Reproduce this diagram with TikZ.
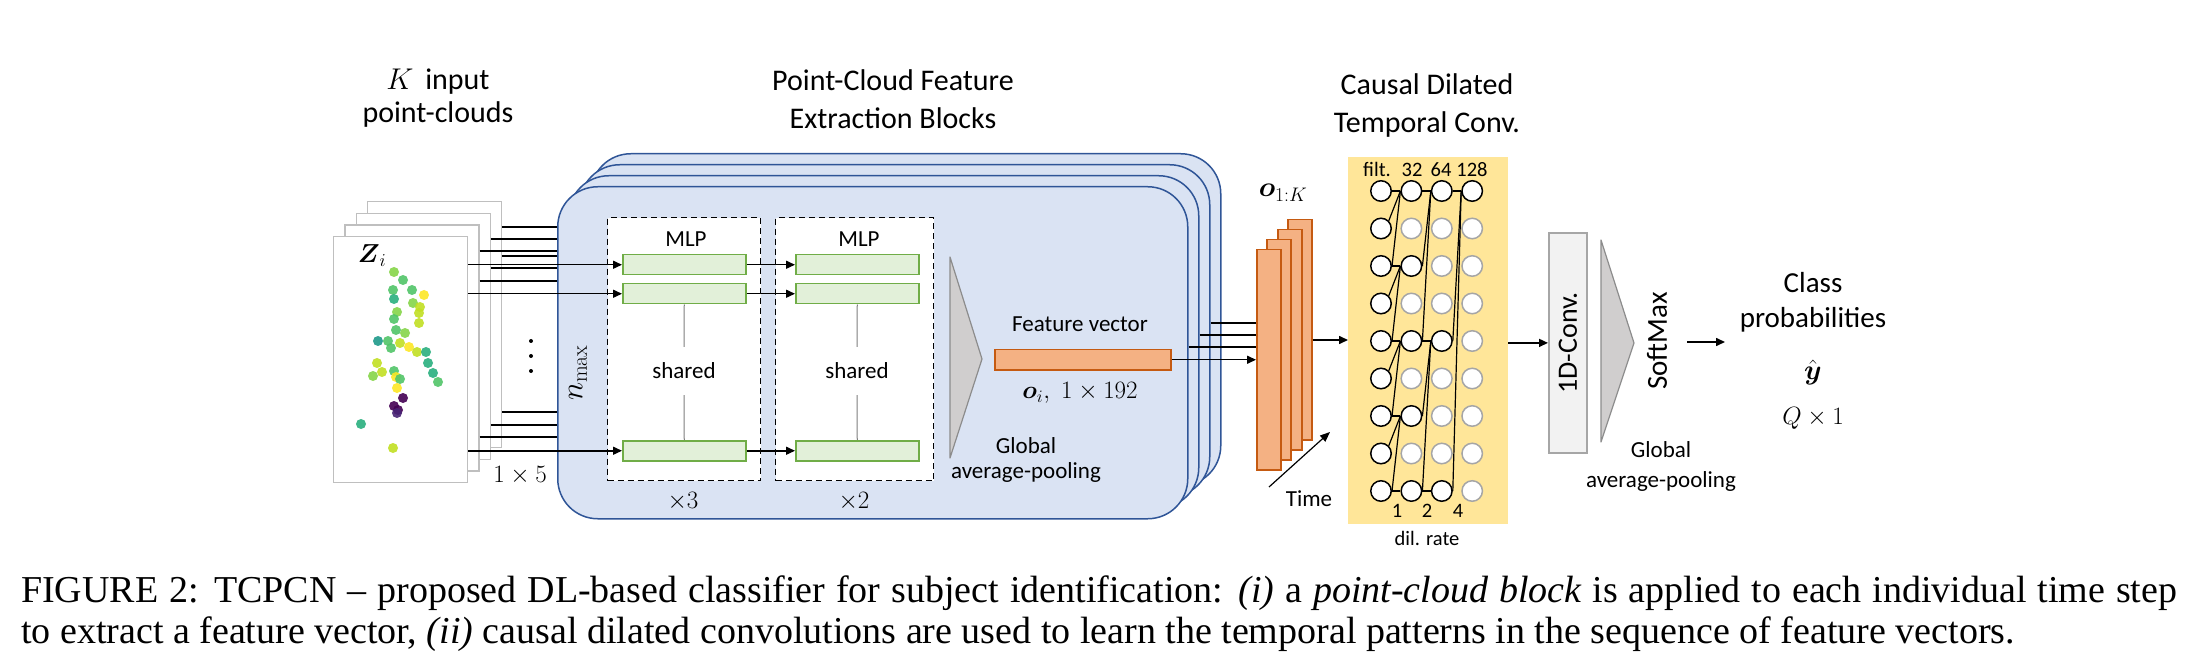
\documentclass[tikz,border=0pt]{standalone}
\usepackage{fix-cm}
\usepackage{amsmath}
\usepackage{fontspec}
\newfontfamily\calfont{Carlito}
\newfontfamily\capfont{Liberation Serif}
\usetikzlibrary{arrows.meta}
\definecolor{blueFill}{HTML}{DAE3F3}
\definecolor{blueDraw}{HTML}{2F5597}
\definecolor{greenFill}{HTML}{E2F0D9}
\definecolor{greenDraw}{HTML}{70AD47}
\definecolor{orangeFill}{HTML}{F4B183}
\definecolor{orangeDraw}{HTML}{C55A11}
\definecolor{yellowFill}{HTML}{FFE699}
\definecolor{poolFill}{HTML}{D0CECE}
\definecolor{poolDraw}{HTML}{8C8C8C}
\definecolor{convFill}{HTML}{F2F2F2}
\definecolor{convDraw}{HTML}{A6A6A6}
\definecolor{frameGray}{HTML}{BFBFBF}
\definecolor{inactGray}{HTML}{A6A6A6}
\definecolor{sharedGray}{HTML}{7F7F7F}
\definecolor{vY}{HTML}{FDE725}
\definecolor{vYG}{HTML}{C2DF23}
\definecolor{vLG}{HTML}{86D549}
\definecolor{vG}{HTML}{52C569}
\definecolor{vTG}{HTML}{2AB07F}
\definecolor{vT}{HTML}{1F9A8A}
\definecolor{vP}{HTML}{440154}
\definecolor{vPb}{HTML}{482475}
\begin{document}
\begin{tikzpicture}[x=1pt,y=-1pt,
  ttl/.style={font=\calfont\fontsize{30}{36}\selectfont, inner sep=0pt, anchor=base},
  lbl/.style={font=\calfont\fontsize{23}{28}\selectfont, inner sep=0pt, anchor=base},
  smalllbl/.style={font=\calfont\fontsize{20.5}{24}\selectfont, inner sep=0pt, anchor=base},
  mlbl/.style={font=\fontsize{25}{30}\selectfont, inner sep=0pt, anchor=base},
  arr/.style={line width=1.5pt, -{Triangle[length=9pt,width=8pt]}},
  ln/.style={line width=1.5pt},
  pcframe/.style={draw=frameGray, fill=white, line width=1.3pt, minimum width=134pt, minimum height=246pt, anchor=north west, inner sep=0pt},
  blk/.style={draw=blueDraw, fill=blueFill, line width=1.5pt, rounded corners=40pt, minimum width=630pt, minimum height=332pt, anchor=north west, inner sep=0pt},
  mlpbox/.style={draw=black, fill=white, line width=1.4pt, dash pattern=on 6pt off 4pt, anchor=north west, inner sep=0pt, minimum height=263pt},
  gbox/.style={draw=greenDraw, fill=greenFill, line width=1.5pt, minimum width=123pt, minimum height=20pt, anchor=north west, inner sep=0pt},
  obox/.style={draw=orangeDraw, fill=orangeFill, line width=1.5pt, anchor=north west, inner sep=0pt},
  act/.style={circle, draw=black, fill=white, line width=1.5pt, minimum size=20.5pt, inner sep=0pt},
  inact/.style={act, draw=inactGray},
  nn/.style={line width=1.2pt},
  pool/.style={fill=poolFill, draw=poolDraw, line width=1.2pt, line join=round}
]
\useasboundingbox (0,0) rectangle (2188,660);

% ---------- point-cloud frames ----------
\node[pcframe] (f3) at (366.9,200.9) {};
\node[pcframe] (f2) at (355.6,212.6) {};
\node[pcframe] (f1) at (344.3,224.3) {};
\node[pcframe] (f0) at (333,236) {};
\foreach \px/\py/\pc in {394/272/vLG,403/280/vG,393/290/vG,394/299/vTG,412/290/vG,424/295/vY,
  413/303/vLG,420/307/vYG,419/313/vYG,397/312/vLG,394/319/vG,419/323/vYG,396/330/vG,405/333/vLG,
  378/341/vT,388/341/vG,391/348/vG,400/343/vYG,409/347/vY,417/352/vYG,426/352/vTG,428/363/vTG,
  433/373/vTG,438/382/vG,377/363/vYG,382/372/vYG,373/376/vLG,394/371/vG,396/377/vY,400/379/vG,
  397/388/vY,403/398/vP,394/406/vP,398/410/vP,397/413/vPb,361/424/vTG,393/448/vYG}
  {\fill[\pc, opacity=0.9] (\px,\py) circle[radius=5pt];}
\node[font=\fontsize{26}{30}\selectfont, inner sep=0pt, anchor=base] (zi) at (372,263) {$\boldsymbol{Z}_i$};

% ---------- feature extraction blocks ----------
\node[blk] (b3) at (590,153) {};
\node[blk] (b2) at (579,164) {};
\node[blk] (b1) at (568,175) {};
\node[blk] (b0) at (557,186) {};

% lines from back frames
\foreach \fr/\ya/\yb/\yc in {f3/227/256/412, f2/239/268/425, f1/251/281/437}{
  \draw[ln] (\fr.east |- 0,\ya) -- (b0.west |- 0,\ya);
  \draw[ln] (\fr.east |- 0,\yb) -- (b0.west |- 0,\yb);
  \draw[ln] (\fr.east |- 0,\yc) -- (b0.west |- 0,\yc);
}
\fill (531,341) circle[radius=2pt] (531,356) circle[radius=2pt] (531,371) circle[radius=2pt];
\node[mlbl] (dim) at (520,482) {$1\times 5$};

\node[mlpbox, minimum width=153pt] (d1) at (607,217) {};
\node[mlpbox, minimum width=158pt] (d2) at (775,217) {};

\node[gbox] (g11) at (622,254) {};
\node[gbox] (g12) at (622,283) {};
\node[gbox] (g13) at (622,440) {};
\node[gbox] (g21) at (795,254) {};
\node[gbox] (g22) at (795,283) {};
\node[gbox] (g23) at (795,440) {};

\draw[arr] (f0.east |- g11.west) -- (g11.west);
\draw[arr] (f0.east |- g12.west) -- (g12.west);
\draw[arr] (f0.east |- g13.west) -- (g13.west);
\draw[arr] (g11.east) -- (g21.west);
\draw[arr] (g12.east) -- (g22.west);
\draw[arr] (g13.east) -- (g23.west);

\node[lbl] (mlp1) at (686,247) {MLP};
\node[lbl] (mlp2) at (859,247) {MLP};
\node[font=\calfont\fontsize{23}{28}\selectfont, inner xsep=0pt, inner ysep=0pt, minimum height=48pt] (sh1) at (684,371) {shared};
\node[font=\calfont\fontsize{23}{28}\selectfont, inner xsep=0pt, inner ysep=0pt, minimum height=48pt] (sh2) at (857,371) {shared};
\draw[sharedGray, line width=1pt] (g12.south) -- (sh1.north);
\draw[sharedGray, line width=1pt] (sh1.south) -- (g13.north);
\draw[sharedGray, line width=1pt] (g22.south) -- (sh2.north);
\draw[sharedGray, line width=1pt] (sh2.south) -- (g23.north);
\node[mlbl] (x3) at (683,508) {$\times 3$};
\node[mlbl] (x2) at (854,508) {$\times 2$};
\node[font=\fontsize{31}{36}\selectfont, inner sep=0pt, rotate=90] (nmax) at (578,373) {$n_{\max}$};

\draw[pool] (950,257) -- (982,359) -- (950,458) -- cycle;
\node[lbl] (fvt) at (1080,332) {Feature vector};
\node[obox, minimum width=176pt, minimum height=20pt] (fv) at (994,349) {};
\node[mlbl] (oi) at (1080,399) {$\boldsymbol{o}_i,\; 1\times 192$};
\node[lbl] (gp1a) at (1026,453) {Global};
\node[lbl] (gp1b) at (1026,478) {average-pooling};

% ---------- titles ----------
\node[ttl] (t1a) at (438,90) {$K$\, input};
\node[ttl] (t1b) at (438,123) {point-clouds};
\node[ttl] (t2a) at (893,91) {Point-Cloud Feature};
\node[ttl] (t2b) at (893,129) {Extraction Blocks};
\node[ttl] (t3a) at (1427,95) {Causal Dilated};
\node[ttl] (t3b) at (1427,133) {Temporal Conv.};

% ---------- orange stack ----------
\node[obox, minimum width=24pt, minimum height=220pt] (o3) at (1287,219) {};
\node[obox, minimum width=24pt, minimum height=220pt] (o2) at (1277,229) {};
\node[obox, minimum width=24pt, minimum height=220pt] (o1) at (1266,239) {};
\node[obox, minimum width=24pt, minimum height=220pt] (o0) at (1256,249) {};
\draw[arr] (fv.east) -- (o0.west |- fv.east);
\draw[ln] (b0.east |- 0,347) -- (o0.west |- 0,347);
\draw[ln] (b1.east |- 0,335) -- (o0.west |- 0,335);
\draw[ln] (b2.east |- 0,323) -- (o0.west |- 0,323);
\node[font=\fontsize{28}{32}\selectfont, inner sep=0pt, anchor=base] (o1k) at (1283,197) {$\boldsymbol{o}_{1:K}$};
\coordinate (tm0) at (1269,487);
\coordinate (tm1) at (1330,432);
\draw[line width=1.2pt, -{Triangle[length=10pt,width=8pt]}] (tm0) -- (tm1);
\node[lbl] (time) at (1309,506) {Time};

% ---------- temporal conv panel ----------
\node[fill=yellowFill, minimum width=160pt, minimum height=367pt, anchor=north west, inner sep=0pt] (panel) at (1348,157) {};
\draw[arr] (o3.east |- 0,340) -- (panel.west |- 0,340);
\foreach \c/\rl in {0/{0,1,2,3,4,5,6,7,8},1/{0,2,4,6,8},2/{0,4,8},3/{0}}{
  \foreach \r in \rl { \node[act] (c\c-\r) at ({1381+30.4*\c},{191+37.5*\r}) {}; }
}
\foreach \c/\rl in {1/{1,3,5,7},2/{1,2,3,5,6,7},3/{1,2,3,4,5,6,7,8}}{
  \foreach \r in \rl { \node[inact] (c\c-\r) at ({1381+30.4*\c},{191+37.5*\r}) {}; }
}
\foreach \r in {0,2,4,6,8} { \draw[nn] (c0-\r.east) -- (c1-\r.west); }
\foreach \r in {0,4,8} { \draw[nn] (c1-\r.east) -- (c2-\r.west); }
\draw[nn] (c2-0.east) -- (c3-0.west);
\foreach \r [evaluate=\r as \ra using int(\r+1), evaluate=\r as \rb using int(\r+2)] in {0,2,4,6} {
  \draw[nn] (c1-\r.west) -- (c0-\ra.north east);
  \draw[nn] (c1-\r.west) -- (c0-\rb.east);
}
\foreach \r [evaluate=\r as \ra using int(\r+2), evaluate=\r as \rb using int(\r+4)] in {0,4} {
  \draw[nn] (c2-\r.west) -- (c1-\ra.east);
  \draw[nn] (c2-\r.west) -- (c1-\rb.east);
}
\draw[nn] (c3-0.west) -- (c2-4.east);
\draw[nn] (c3-0.west) -- (c2-8.east);
\node[smalllbl] (filt) at (1377,177) {filt.};
\node[smalllbl] (f32) at (1412,177) {32};
\node[smalllbl] (f64) at (1441,177) {64};
\node[smalllbl] (f128) at (1472,177) {128};
\node[smalllbl] (d1l) at (1397,517) {1};
\node[smalllbl] (d2l) at (1427,517) {2};
\node[smalllbl] (d4l) at (1458,517) {4};
\node[smalllbl] (dil) at (1427,545) {dil. rate};

% ---------- output part ----------
\node[draw=convDraw, fill=convFill, line width=1.8pt, minimum width=38pt, minimum height=220pt, anchor=north west, inner sep=0pt] (conv) at (1548,232) {};
\node[font=\calfont\fontsize{28}{32}\selectfont, rotate=90, inner sep=0pt] (convt) at (conv.center) {1D-Conv.};
\draw[arr] (panel.east |- conv.west) -- (conv.west);
\draw[pool] (1601,240) -- (1634,343) -- (1601,442) -- cycle;
\node[font=\calfont\fontsize{29}{32}\selectfont, rotate=90, inner sep=0pt] (sm) at (1657,341) {SoftMax};
\node[lbl] (gp2a) at (1661,457) {Global};
\node[lbl] (gp2b) at (1661,487) {average-pooling};
\coordinate (smo) at (1687,342);
\coordinate (clsin) at (1725,342);
\draw[arr] (smo) -- (clsin);
\node[ttl, font=\calfont\fontsize{29}{34}\selectfont] (cls1) at (1813,293) {Class};
\node[ttl, font=\calfont\fontsize{29}{34}\selectfont] (cls2) at (1813,327) {probabilities};
\node[font=\fontsize{28}{32}\selectfont, inner sep=0pt, anchor=base] (yhat) at (1813,380) {$\hat{\boldsymbol{y}}$};
\node[mlbl] (q1) at (1813,424) {$Q\times 1$};

% ---------- caption ----------
\node[anchor=base west, inner sep=0pt, font=\capfont\fontsize{38}{41}\selectfont] (cap1) at (21,602)
  {\makebox[2156pt][s]{FIGURE 2: TCPCN – proposed DL-based classifier for subject identification: \textit{(i)} a \textit{point-cloud block} is applied to each individual time step}};
\node[anchor=base west, inner sep=0pt, font=\capfont\fontsize{38}{41}\selectfont] (cap2) at (21,643)
  {to extract a feature vector, \textit{(ii)} causal dilated convolutions are used to learn the temporal patterns in the sequence of feature vectors.};
\end{tikzpicture}
\end{document}
